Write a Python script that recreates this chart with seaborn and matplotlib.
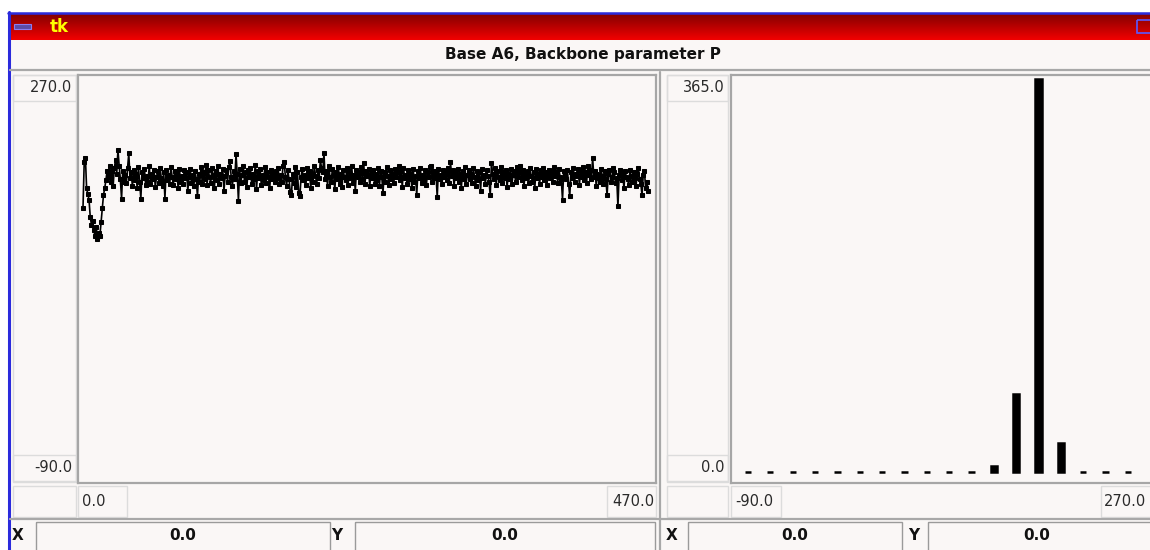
import numpy as np
import pandas as pd
import seaborn as sns
import matplotlib.pyplot as plt
from matplotlib.patches import Rectangle
from matplotlib.lines import Line2D
from matplotlib.transforms import Affine2D

# backbone parameter P for base A6, one value per frame
p_values = [
    153, 193, 197, 170, 165, 160, 145, 138, 141, 133,
    128, 136, 125, 131, 128, 140, 153, 164, 170, 177,
    185, 180, 190, 176, 185, 172, 188, 195, 183, 204,
    190, 178, 161, 185, 176,
    182, 175, 188, 201, 179, 184, 172, 186, 177, 183,
    170, 189, 176, 161, 184, 179, 187, 173, 181, 176,
    190, 174, 183, 178, 186, 171, 180, 185, 175, 188,
    179, 172, 184, 161, 186, 177, 182, 174, 189, 180,
    173, 185, 178, 183, 170, 187, 176, 181, 174, 186,
    179, 184, 168, 180, 187, 175, 182, 172, 185, 178,
    163, 183, 176, 189, 174,
    184, 178, 191, 173, 186, 180, 175, 188, 182, 170,
    185, 177, 190, 174, 183, 179, 187, 168, 181, 186,
    176, 189, 194, 180, 172, 185, 178, 200, 183, 159,
    187, 175, 182, 190, 176, 184, 171, 186, 180, 188,
    174, 183, 178, 191, 169, 185, 179, 187, 173, 182,
    177, 189, 175, 184, 180, 170, 186, 178, 183, 176,
    185, 179, 188, 174, 182, 176, 190, 193, 180, 172,
    186, 178, 167, 164, 183, 175, 189, 171, 184, 166,
    163, 180, 187, 177, 182, 173, 188, 179, 185, 170,
    183, 176, 190, 181, 174, 186, 179, 195, 188, 184,
    201, 178, 185, 172, 190, 180, 176, 187, 182, 169,
    184, 178, 189, 174, 183, 171, 186, 180, 177, 188,
    173, 185, 179, 190, 175, 182, 168, 186, 180, 184,
    176, 189, 178, 192, 174, 185, 181, 187, 172, 183,
    179, 186, 174, 183, 177, 188, 172, 185, 180, 166,
    184, 176, 189, 181, 173, 186, 178, 183, 175, 187,
    180, 184, 190, 177, 185, 171, 188, 179, 182, 174,
    186, 178, 183, 170, 187, 176, 181, 164, 185, 179,
    188, 175, 182, 177, 186, 173, 184, 180, 189, 190,
    176, 185, 179, 183, 162, 187, 178, 182, 174, 186,
    180, 184, 177, 188, 175, 193, 181, 186, 172, 184,
    179, 187, 176, 183, 170, 185, 178, 189, 174, 182,
    186, 178, 183, 175, 188, 180, 172, 185, 177, 184,
    168, 187, 179, 182, 174, 186, 181, 176, 164, 192,
    183, 178, 188, 173, 185, 180, 177, 189, 175, 184,
    179, 186, 171, 183, 178, 187, 174, 182, 185, 176,
    189, 180, 184, 190, 177, 186, 172, 183, 179, 185,
    175, 188, 181, 176, 184, 170, 187, 179, 183, 174,
    186, 180, 188, 177, 184, 173, 182, 186, 179, 185,
    176, 189, 181, 184, 175, 187, 180, 178, 160, 185,
    182, 178, 186, 174, 163, 184, 179, 188, 176, 183,
    181, 187, 173, 185, 180, 189, 177, 184, 175, 190,
    182, 186, 178, 197, 180, 185, 172, 183, 179, 176,
    187, 181, 174, 185, 178, 164, 183, 186, 176, 180,
    188, 184, 175, 179, 154, 182, 186, 177, 183, 170,
    185, 180, 178, 173, 186, 181, 176, 184, 179, 172,
    183, 188, 178, 174, 164, 182, 185, 170, 176, 168,
]
frames = np.arange(1, len(p_values) + 1)

# histogram of P, 20 degree bins from -90 to 270
bin_centers = [-80, -60, -40, -20, 0, 20, 40, 60, 80, 100, 120, 140, 160, 180, 200, 220, 240, 260]
bin_counts = [0, 0, 0, 0, 0, 0, 0, 0, 0, 0, 0, 6, 72, 365, 27, 0, 0, 0]

title = "Base A6, Backbone parameter P"
left_ylabels = ["270.0", "-90.0"]
left_xlabels = ["0.0", "470.0"]
right_ylabels = ["365.0", "0.0"]
right_xlabels = ["-90.0", "270.0"]

sns.set_style("white")
plt.rcParams["font.family"] = ["DejaVu Sans"]

W, H = 1150, 550
BG = "#faf7f6"
fig = plt.figure(figsize=(W / 100, H / 100), dpi=100)
fig.patch.set_facecolor("white")
# pixel coordinates, origin top-left
px = Affine2D().scale(1 / W, -1 / H).translate(0, 1) + fig.transFigure


def rect(x0, y0, x1, y1, fc="none", ec="none", lw=1.0, z=0):
    fig.add_artist(Rectangle((x0, y0), x1 - x0, y1 - y0, transform=px,
                             facecolor=fc, edgecolor=ec, linewidth=lw, zorder=z))


def hline(x0, x1, y, color, lw):
    fig.add_artist(Line2D([x0, x1], [y, y], transform=px, color=color, linewidth=lw))


def vline(x, y0, y1, color, lw):
    fig.add_artist(Line2D([x, x], [y0, y1], transform=px, color=color, linewidth=lw))


def label(x, y, s, ha="left", size=10.5, weight="normal", color="#2a2a2a"):
    fig.text(x, y, s, transform=px, ha=ha, va="center", fontsize=size,
             fontweight=weight, color=color)


# window body
rect(8, 12, W + 2, H + 2, fc=BG)
vline(9, 12, H, "#2b2bdc", 2.2)
hline(8, W, 12.5, "#2b2bdc", 1.8)

# title bar gradient
tb = fig.add_axes([10 / W, 1 - 40 / H, (W - 10) / W, 27 / H])
grad = np.linspace(0, 1, 64)[:, None]
top = np.array([0.50, 0.0, 0.0])
bot = np.array([0.95, 0.0, 0.0])
img = top[None, None, :] * (1 - grad[:, :, None]) + bot[None, None, :] * grad[:, :, None]
tb.imshow(img, aspect="auto", extent=[0, 1, 0, 1])
tb.axis("off")
rect(14, 24, 31, 29, fc="#5b4ca8", ec="#8c7cf0", lw=0.8, z=5)
rect(1137, 20, 1152, 33, fc="none", ec="#5a5aff", lw=1.2, z=5)
label(50, 27, "tk", size=12, weight="bold", color="#ffff00")

# plot title and separators
label(583, 54, title, ha="center", size=11, weight="bold", color="#111111")
hline(10, W, 69.5, "#a8a8a8", 1.6)
hline(10, W, 518.5, "#a8a8a8", 1.6)
vline(660, 72, 550, "#a8a8a8", 1.6)

LB = "#dcdcdc"
# label boxes, left panel
rect(13, 75, 76, 482, ec=LB)
rect(13, 75, 76, 101, ec=LB)
rect(13, 455, 76, 481, ec=LB)
rect(13, 486, 76, 517, ec=LB)
rect(78, 486, 127, 517, ec=LB)
rect(607, 486, 656, 517, ec=LB)
label(72, 88, left_ylabels[0], ha="right")
label(72, 467, left_ylabels[1], ha="right")
label(82, 502, left_xlabels[0])
label(654, 502, left_xlabels[1], ha="right")

# label boxes, right panel
rect(667, 75, 728, 482, ec=LB)
rect(667, 75, 728, 101, ec=LB)
rect(667, 455, 728, 481, ec=LB)
rect(667, 486, 728, 517, ec=LB)
rect(731, 486, 781, 517, ec=LB)
rect(1101, 486, 1152, 517, ec=LB)
label(725, 88, right_ylabels[0], ha="right")
label(725, 467, right_ylabels[1], ha="right")
label(735, 502, right_xlabels[0])
label(1104, 502, right_xlabels[1])

# bottom coordinate entries
for lx, bx0, bx1 in [(18, 36, 330), (337, 355, 655), (672, 688, 902), (914, 928, 1152)]:
    label(lx, 536, "X" if lx in (18, 672) else "Y", ha="center", size=11, weight="bold", color="#111111")
    rect(bx0, 522, bx1, 552, ec="#9a9a9a", lw=1.0)
    label((bx0 + min(bx1, 1146)) / 2, 536, "0.0", ha="center", size=11, weight="bold", color="#111111")


def plot_axes(x0, y0, x1, y1):
    ax = fig.add_axes([x0 / W, 1 - y1 / H, (x1 - x0) / W, (y1 - y0) / H])
    ax.set_facecolor(BG)
    for s in ax.spines.values():
        s.set_color("#a6a6a6")
        s.set_linewidth(1.6)
    ax.set_xticks([])
    ax.set_yticks([])
    return ax


# time series
ax1 = plot_axes(78, 75, 656, 483)
df = pd.DataFrame({"frame": frames, "P": p_values})
sns.lineplot(data=df, x="frame", y="P", ax=ax1, color="black", linewidth=1.2,
             marker="s", markersize=3.5, markeredgecolor="black", estimator=None, sort=False)
ax1.set_xlim(-3.15, 476.6)
ax1.set_ylim(-90, 270)
ax1.set_xlabel("")
ax1.set_ylabel("")
ax1.set_xticks([])
ax1.set_yticks([])

# histogram
ax2 = plot_axes(731, 75, 1153, 483)
hist = pd.DataFrame({"bin": [str(b) for b in bin_centers], "count": bin_counts})
sns.barplot(data=hist, x="bin", y="count", ax=ax2, color="black", saturation=1,
            width=0.28, edgecolor="black", linewidth=1.8, errorbar=None)
ax2.set_xlim(-0.76, 18.12)
ax2.set_ylim(-10.2, 368.7)
ax2.set_xlabel("")
ax2.set_ylabel("")
ax2.set_xticks([])
ax2.set_yticks([])

fig.savefig("out.png", dpi=100, facecolor=fig.get_facecolor())
